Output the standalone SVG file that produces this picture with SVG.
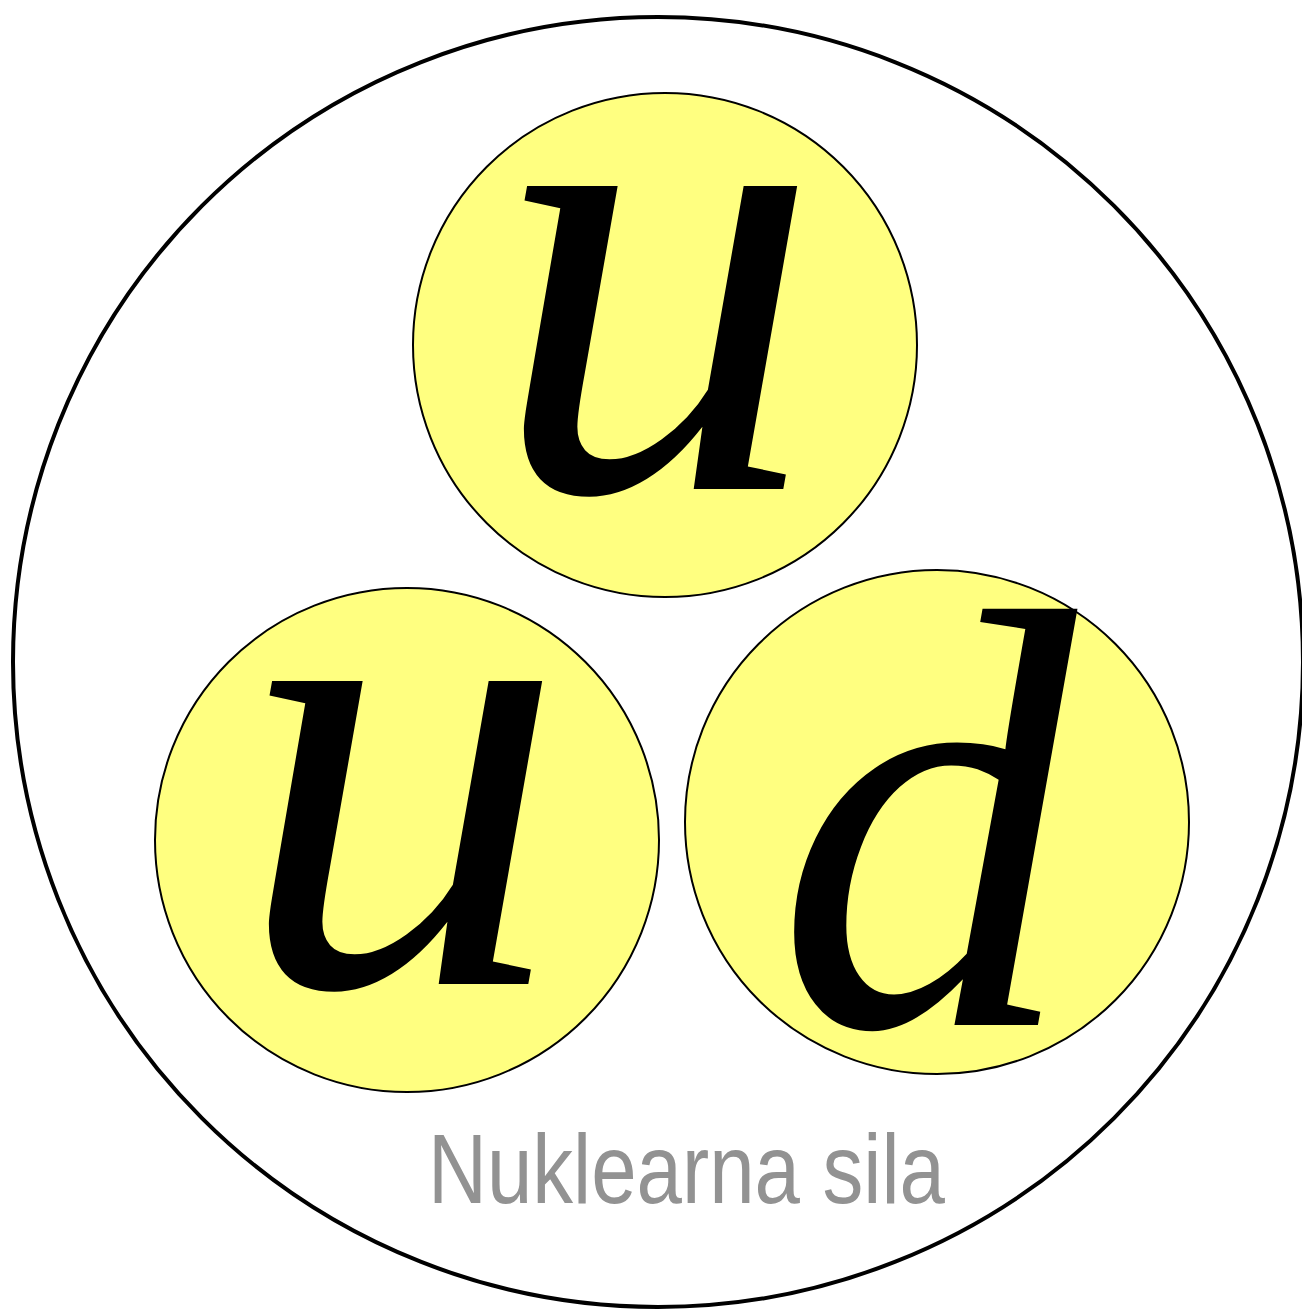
<svg xmlns="http://www.w3.org/2000/svg" width="1302" height="1315" viewBox="0 0 1302 1315">
<style>
.q{fill:#ffff80;stroke:#000;stroke-width:2}
.l{font-family:"Liberation Serif","Times New Roman",serif;font-style:italic;font-size:660px;fill:#000;text-anchor:middle}
</style>
<rect width="1302" height="1315" fill="#fff"/>
<g id="nucleon"><circle cx="658" cy="662" r="645" fill="#fff" stroke="#000" stroke-width="4"/></g>
<g id="quark-u1"><circle class="q" cx="665" cy="345" r="252"/><text class="l" x="656" y="489">u</text></g>
<g id="quark-u2"><circle class="q" cx="407" cy="840" r="252"/><text class="l" x="401" y="984">u</text></g>
<g id="quark-d"><circle class="q" cx="937" cy="822" r="252"/><text class="l" x="926" y="1025" style="font-size:600px">d</text></g>
<g id="label"><text x="428" y="1203" font-family="Liberation Sans,Arial,sans-serif" font-size="98" fill="#929292" textLength="517" lengthAdjust="spacingAndGlyphs">Nuklearna sila</text></g>
<g id="connectors"/>
</svg>
